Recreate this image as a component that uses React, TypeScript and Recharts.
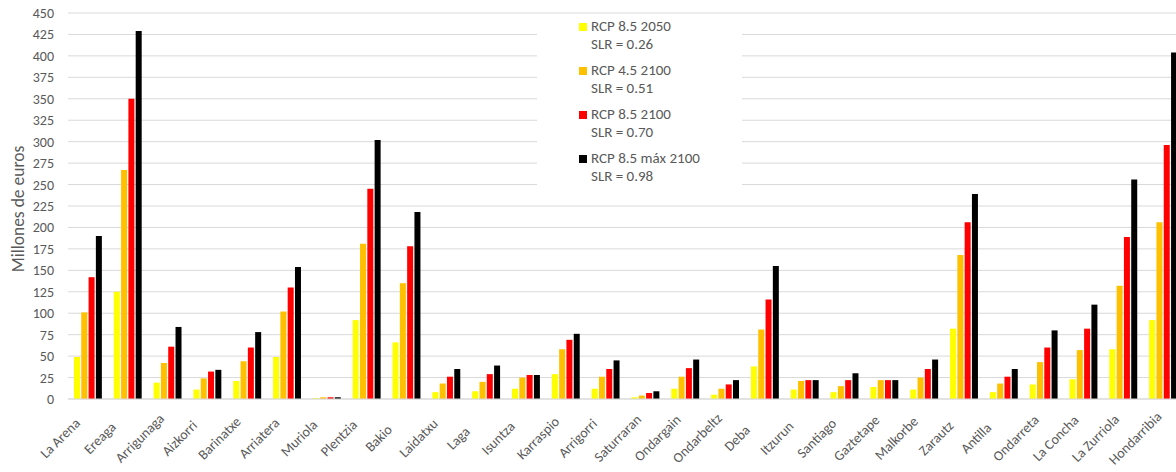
import { BarChart, Bar, XAxis, YAxis, CartesianGrid, Legend } from 'recharts';

const playas = [
  'La Arena', 'Ereaga', 'Arrigunaga', 'Aizkorri', 'Barinatxe', 'Arriatera', 'Muriola',
  'Plentzia', 'Bakio', 'Laidatxu', 'Laga', 'Isuntza', 'Karraspio', 'Arrigorri',
  'Saturraran', 'Ondargain', 'Ondarbeltz', 'Deba', 'Itzurun', 'Santiago', 'Gaztetape',
  'Malkorbe', 'Zarautz', 'Antilla', 'Ondarreta', 'La Concha', 'La Zurriola', 'Hondarribia',
];

// Millones de euros por escenario
const rcp85_2050 = [49, 125, 19, 11, 21, 49, 1, 92, 66, 8, 9, 12, 29, 12, 2, 12, 5, 38, 11, 8, 14, 11, 82, 8, 17, 23, 58, 92];
const rcp45_2100 = [101, 267, 42, 24, 44, 102, 2, 181, 135, 18, 20, 25, 58, 26, 4, 26, 12, 81, 21, 15, 22, 25, 168, 18, 43, 57, 132, 206];
const rcp85_2100 = [142, 350, 61, 32, 60, 130, 2, 245, 178, 26, 29, 28, 69, 35, 7, 36, 17, 116, 22, 22, 22, 35, 206, 26, 60, 82, 189, 296];
const rcp85max_2100 = [190, 429, 84, 34, 78, 154, 2, 302, 218, 35, 39, 28, 76, 45, 9, 46, 22, 155, 22, 30, 22, 46, 239, 35, 80, 110, 256, 404];

const series = [
  { key: 'a', name: 'RCP 8.5 2050', slr: 'SLR = 0.26', color: '#FFFF00', values: rcp85_2050 },
  { key: 'b', name: 'RCP 4.5 2100', slr: 'SLR = 0.51', color: '#FFC000', values: rcp45_2100 },
  { key: 'c', name: 'RCP 8.5 2100', slr: 'SLR = 0.70', color: '#FF0000', values: rcp85_2100 },
  { key: 'd', name: 'RCP 8.5 máx 2100', slr: 'SLR = 0.98', color: '#000000', values: rcp85max_2100 },
];

const yTicks = [0, 25, 50, 75, 100, 125, 150, 175, 200, 225, 250, 275, 300, 325, 350, 375, 400, 425, 450];

const data = playas.map((p, i) => {
  const row: Record<string, string | number> = { playa: p };
  series.forEach(s => { row[s.key] = s.values[i]; });
  return row;
});

const FONT = 'Calibri, Carlito, Lato, sans-serif';
const TEXT = '#595959';

// rotated label, centred on a point below-left of the category
function XTick({ x, y, payload }: any) {
  return (
    <g transform={`translate(${x - 24.5},${y + 40.5})`}>
      <text x={0} y={0} textAnchor="middle" transform="rotate(-45)" fill={TEXT} fontSize={14} fontFamily={FONT}>
        {payload.value}
      </text>
    </g>
  );
}

function YLabel() {
  return (
    <text x={24} y={209} transform="rotate(-90 24 209)" textAnchor="middle" fill={TEXT} fontSize={17.5} fontFamily={FONT}>
      Millones de euros
    </text>
  );
}

function LegendBox() {
  return (
    <div style={{ background: '#fff', width: 205, height: 172, paddingLeft: 42, paddingTop: 0, boxSizing: 'border-box' }}>
      {series.map(s => (
        <div key={s.key} style={{ height: 44, display: 'flex', alignItems: 'flex-start' }}>
          <div style={{ width: 8, height: 8, background: s.color, marginTop: 5, marginRight: 4, flex: 'none' }} />
          <div style={{ fontFamily: FONT, fontSize: 15, color: TEXT, lineHeight: '17.6px', whiteSpace: 'nowrap' }}>
            <div>{s.name}</div>
            <div>{s.slr}</div>
          </div>
        </div>
      ))}
    </div>
  );
}

export default function App() {
  return (
    <div style={{ position: 'absolute', left: 0, top: 0, width: 1176, height: 472, overflow: 'hidden', background: '#fff' }}>
      <BarChart
        width={1183}
        height={472}
        data={data}
        margin={{ top: 13, right: 0, bottom: 0, left: 0 }}
        barCategoryGap="15%"
        barGap={1.3}
      >
        <CartesianGrid vertical={false} stroke="#D9D9D9" />
        <XAxis
          dataKey="playa"
          interval={0}
          height={73}
          tickLine={false}
          axisLine={{ stroke: '#D9D9D9' }}
          tickSize={0}
          tick={<XTick />}
        />
        <YAxis
          width={68}
          domain={[0, 450]}
          ticks={yTicks}
          interval={0}
          tickLine={false}
          axisLine={false}
          tickSize={0}
          tickMargin={14}
          tick={{ fill: TEXT, fontSize: 14, fontFamily: FONT }}
          label={<YLabel />}
        />
        <Legend
          layout="vertical"
          align="center"
          verticalAlign="middle"
          content={<LegendBox />}
          wrapperStyle={{ left: 537, top: 18, width: 205, height: 172 }}
        />
        {series.map(s => (
          <Bar key={s.key} dataKey={s.key} name={s.name} fill={s.color} isAnimationActive={false} />
        ))}
      </BarChart>
    </div>
  );
}
